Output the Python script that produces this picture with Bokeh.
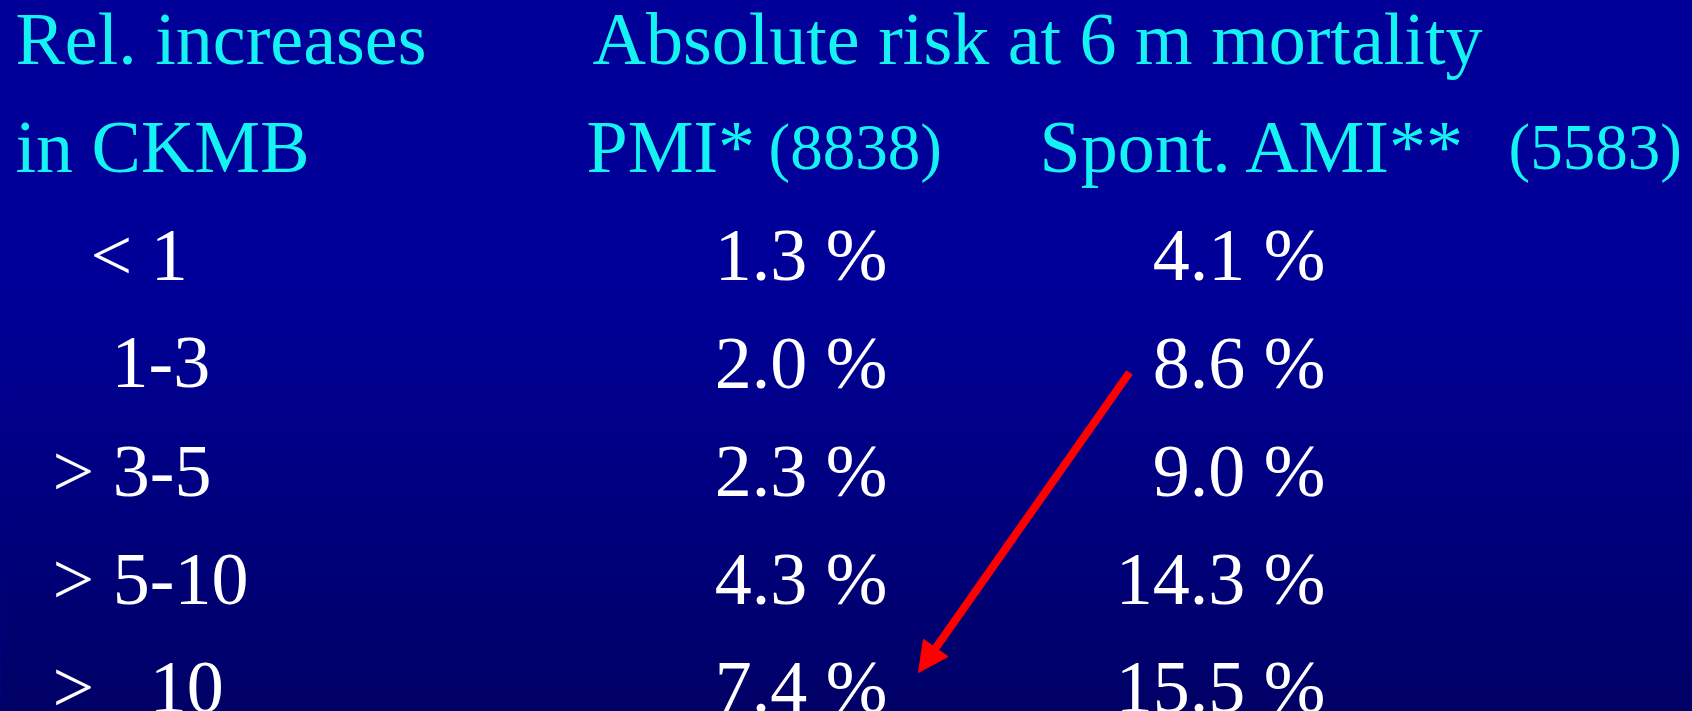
from bokeh.plotting import figure
from bokeh.models import ColumnDataSource, Arrow, NormalHead, Range1d
from bokeh.core.properties import value
from bokeh.embed import file_html
from bokeh.resources import INLINE

# Table contents
categories = ["<\u00a01", "1-3", ">\u00a03-5", ">\u00a05-10", ">\u00a0\u00a0\u00a010"]
pmi_risk = [1.3, 2.0, 2.3, 4.3, 7.4]
ami_risk = [4.1, 8.6, 9.0, 14.3, 15.5]
pmi_n = 8838
ami_n = 5583

W, H = 1692, 711
FONT = value("Liberation Serif")
BIG = "74px"
SMALL = "65px"
CYAN = "#14F2F2"

p = figure(width=W, height=H, output_backend="svg", toolbar_location=None,
           x_range=Range1d(0, W), y_range=Range1d(H, 0), min_border=0)
p.axis.visible = False
p.grid.visible = False
p.outline_line_color = None
p.background_fill_color = "#000099"
p.border_fill_color = "#000099"
p.styles = {"background-color": "#000099"}

# Vertical background shading: flat blue on top, darkening toward the bottom
n_strips = 60
top_start = 280
tops, bottoms, cols = [-20], [top_start], ["#000099"]
for k in range(n_strips):
    y0 = top_start + (H - top_start) * k / n_strips
    y1 = top_start + (H - top_start) * (k + 1) / n_strips
    t = (k + 0.5) / n_strips
    b = int(round(0x99 + (0x66 - 0x99) * t))
    tops.append(y0)
    bottoms.append(y1 + 0.5 if k < n_strips - 1 else H + 20)
    cols.append("#0000%02x" % b)
p.quad(left=-20, right=W + 20, top=tops, bottom=bottoms, fill_color=cols, line_color=None)

row_y = [38 + 108 * i for i in range(7)]


def label(x, y, txt, size=BIG, color=CYAN, align="left"):
    p.text(x=[x], y=[y], text=[txt], text_font=FONT, text_font_size=size,
           text_color=color, text_align=align, text_baseline="alphabetic")


# Header rows
label(15, row_y[0], "Rel. increases")
label(15, row_y[1], "in CKMB")
label(592, row_y[0], "Absolute risk at 6 m mortality")
label(586, row_y[1], "PMI*")
label(768, row_y[1], f"({pmi_n})", size=SMALL)
label(1039, row_y[1], "Spont. AMI**")
label(1508, row_y[1], f"({ami_n})", size=SMALL)

# Body rows
cat_x = [90, 111, 52, 52, 52]
src = ColumnDataSource(dict(
    y=row_y[2:],
    cat=categories,
    cx=cat_x,
    pmi=[f"{v:.1f} %" for v in pmi_risk],
    ami=[f"{v:.1f} %" for v in ami_risk],
))
p.text(x="cx", y="y", text="cat", source=src, text_font=FONT, text_font_size=BIG,
       text_color="white", text_align="left", text_baseline="alphabetic")
p.text(x=887, y="y", text="pmi", source=src, text_font=FONT, text_font_size=BIG,
       text_color="white", text_align="right", text_baseline="alphabetic")
p.text(x=1325, y="y", text="ami", source=src, text_font=FONT, text_font_size=BIG,
       text_color="white", text_align="right", text_baseline="alphabetic")

# Red arrow from the AMI 1-3 row down to the PMI >10 row
p.add_layout(Arrow(x_start=1129, y_start=372, x_end=918, y_end=672,
                   line_color="#FF0000", line_width=8,
                   end=NormalHead(size=30, fill_color="#FF0000", line_color="#FF0000",
                                  line_width=1)))

html = file_html(p, INLINE)
html = html.replace("</head>",
                    "<style>html,body{margin:0;padding:0;background:#000099;}</style></head>", 1)
open("out.html", "w").write(html)
